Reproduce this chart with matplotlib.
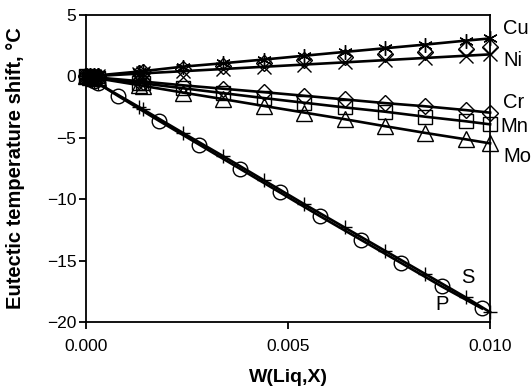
import matplotlib
matplotlib.use("Agg")
import matplotlib.pyplot as plt

plt.rcParams['font.family'] = ['Liberation Sans', 'DejaVu Sans']

x_a = [0, 0.0001, 0.0002, 0.0003, 0.0013, 0.0014, 0.0024, 0.0034, 0.0044,
       0.0054, 0.0064, 0.0074, 0.0084, 0.0094, 0.0100]
cu = [0, 0.03, 0.06, 0.09, 0.40, 0.43, 0.80, 1.08, 1.38, 1.69, 2.00, 2.30, 2.60, 2.92, 3.10]
ni = [0, 0.02, 0.04, 0.05, 0.23, 0.25, 0.43, 0.61, 0.79, 0.97, 1.15, 1.33, 1.51, 1.69, 1.80]
extra = [0, 0.02, 0.05, 0.07, 0.32, 0.34, 0.62, 0.85, 1.08, 1.33, 1.58, 1.80, 2.00, 2.20, 2.42]
cr = [0, -0.03, -0.06, -0.09, -0.38, -0.41, -0.72, -1.00, -1.28, -1.57, -1.87, -2.17, -2.43, -2.74, -2.95]
mn = [0, -0.04, -0.08, -0.12, -0.52, -0.56, -0.96, -1.36, -1.76, -2.14, -2.52, -2.87, -3.28, -3.65, -3.90]
mo = [0, -0.05, -0.11, -0.16, -0.70, -0.76, -1.31, -1.85, -2.40, -2.94, -3.48, -4.05, -4.60, -5.12, -5.45]
s = [0, -0.19, -0.38, -0.57, -2.47, -2.66, -4.60, -6.50, -8.45, -10.4, -12.3, -14.2, -16.1, -18.0, -19.2]

x_p = [0, 0.0001, 0.0002, 0.0003, 0.0008, 0.0018, 0.0028, 0.0038, 0.0048,
       0.0058, 0.0068, 0.0078, 0.0088, 0.0098]
p = [0, -0.19, -0.38, -0.57, -1.60, -3.60, -5.55, -7.50, -9.45, -11.4, -13.3, -15.2, -17.1, -18.9]

label_names = ["Cu", "Ni", "Cr", "Mn", "Mo"]
label_y = [3.94, 1.34, -2.08, -4.10, -6.56]
label_x = [0.01032, 0.01032, 0.01032, 0.01025, 0.01032]

fig = plt.figure(figsize=(5.31, 3.87), dpi=100)
ax = fig.add_axes([0.162, 0.168, 0.761, 0.793])

lw = 1.9
mk = dict(color='black', markerfacecolor='none', markeredgecolor='black',
          markeredgewidth=1.0, clip_on=False)
ax.plot(x_a, cu, marker=(6, 2, 0), markersize=10.5, lw=lw, **mk)
ax.plot(x_a, ni, marker='x', markersize=10.5, lw=lw, **mk)
ax.plot(x_a, extra, marker='D', markersize=8, lw=0, **mk)
ax.plot(x_a, cr, marker='D', markersize=8, lw=lw, **mk)
ax.plot(x_a, mn, marker='s', markersize=9.5, lw=lw, **mk)
ax.plot(x_a, mo, marker='^', markersize=11, lw=lw, **mk)
ax.plot(x_a, s, marker='+', markersize=10, lw=lw, **mk)
ax.plot(x_p, p, marker='o', markersize=10.5, lw=lw, **mk)

ax.set_xlim(0, 0.010)
ax.set_ylim(-20, 5)
ax.set_xticks([0, 0.005, 0.010])
ax.set_xticklabels(["0.000", "0.005", "0.010"])
ax.set_yticks([5, 0, -5, -10, -15, -20])
ax.tick_params(direction='out', length=5, width=1.3, labelsize=12.5, colors='black')
ax.tick_params(axis='x', pad=7)
ax.tick_params(axis='y', pad=2)
for sp in ax.spines.values():
    sp.set_linewidth(1.3)

ax.set_xlabel("W(Liq,X)", fontsize=14, fontweight='bold')
ax.set_ylabel("Eutectic temperature shift, °C", fontsize=14.5, fontweight='bold')
ax.xaxis.set_label_coords(0.5, -0.152)
ax.yaxis.set_label_coords(-0.151, 0.5)

for name, xv, yv in zip(label_names, label_x, label_y):
    ax.text(xv, yv, name, fontsize=14.5, va='center', ha='left', clip_on=False)
ax.text(0.00946, -16.4, "S", fontsize=14.5, ha='center', va='center')
ax.text(0.00881, -18.6, "P", fontsize=14.5, ha='center', va='center')

fig.savefig("out.png", dpi=100)
